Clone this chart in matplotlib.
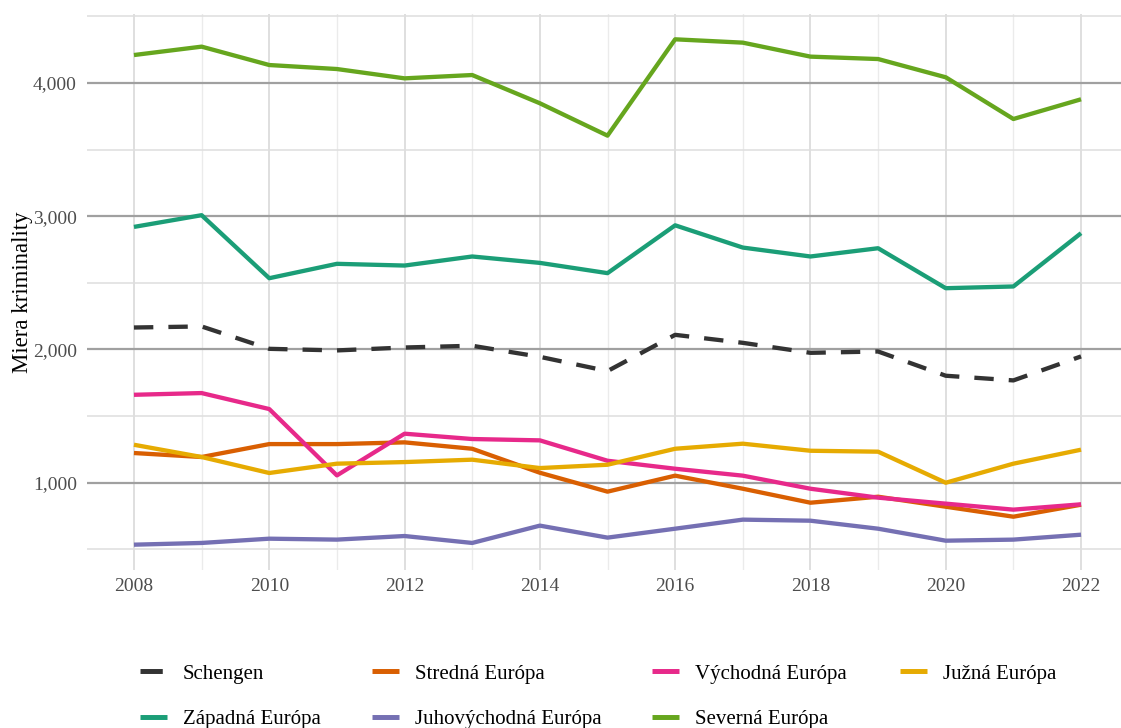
import matplotlib
matplotlib.use("Agg")
import matplotlib.pyplot as plt
from matplotlib.ticker import FuncFormatter, MultipleLocator
from matplotlib.lines import Line2D

plt.rcParams['font.family'] = ['Liberation Serif', 'DejaVu Serif']

years = list(range(2008, 2023))

schengen = [2165, 2173, 2005, 1993, 2015, 2028, 1945, 1838, 2110, 2050, 1975, 1985, 1803, 1768, 1948]
stredna = [1223, 1193, 1290, 1290, 1303, 1255, 1075, 933, 1053, 955, 850, 895, 820, 745, 835]
vychodna = [1660, 1673, 1553, 1055, 1368, 1328, 1318, 1165, 1105, 1053, 955, 888, 843, 798, 838]
juzna = [1285, 1193, 1073, 1143, 1155, 1173, 1110, 1135, 1255, 1293, 1240, 1233, 1000, 1143, 1248]
zapadna = [2920, 3008, 2535, 2643, 2630, 2698, 2650, 2573, 2932, 2765, 2698, 2760, 2460, 2473, 2873]
juhovychodna = [535, 548, 580, 573, 600, 548, 678, 588, 655, 723, 715, 655, 565, 573, 610]
severna = [4210, 4273, 4135, 4105, 4035, 4060, 3848, 3605, 4328, 4303, 4198, 4180, 4043, 3730, 3878]

labels = ["Schengen", "Stredná Európa", "Východná Európa", "Južná Európa",
          "Západná Európa", "Juhovýchodná Európa", "Severná Európa"]
series = [schengen, stredna, vychodna, juzna, zapadna, juhovychodna, severna]
colors = ["#333333", "#D95F02", "#E7298A", "#E6AB02", "#1B9E77", "#7570B3", "#66A61E"]
styles = [(0, (4.5, 3.5)), "-", "-", "-", "-", "-", "-"]

W, H = 1121, 728
fig = plt.figure(figsize=(W / 100, H / 100), dpi=100)
left_px, right_px, top_px, bottom_px = 86.6, 1128.4, 14, 570
ax = fig.add_axes([left_px / W, 1 - bottom_px / H, (right_px - left_px) / W, (bottom_px - top_px) / H])

lw = 3.1
for lab, vals, c, ls in zip(labels, series, colors, styles):
    ax.plot(years, vals, color=c, lw=lw, linestyle=ls, label=lab,
            solid_capstyle='butt', dash_capstyle='butt', zorder=3)

ax.set_xlim(2007.3, 2022.7)
ax.set_ylim(345, 4518)

ax.xaxis.set_major_locator(MultipleLocator(2))
ax.xaxis.set_minor_locator(MultipleLocator(1))
ax.yaxis.set_major_locator(MultipleLocator(1000))
ax.yaxis.set_minor_locator(MultipleLocator(500))
ax.yaxis.set_major_formatter(FuncFormatter(lambda v, p: f"{int(v):,}"))

ax.grid(which='major', axis='y', color='#A0A0A0', lw=1.6, zorder=1)
ax.grid(which='minor', axis='y', color='#DEDEDE', lw=1.1, zorder=1)
ax.grid(which='major', axis='x', color='#D6D6D6', lw=1.1, zorder=1)
ax.grid(which='minor', axis='x', color='#EBEBEB', lw=1.0, zorder=1)
ax.set_axisbelow(True)

for s in ax.spines.values():
    s.set_visible(False)
ax.tick_params(which='both', length=0)
ax.tick_params(axis='y', labelsize=14, labelcolor='#4D4D4D', pad=7)
ax.tick_params(axis='x', labelsize=14, labelcolor='#4D4D4D', pad=6)

ax.set_ylabel("Miera kriminality", fontsize=16.5, color='black', labelpad=0)

# legend: 4 columns, row-major order like the reference
col_x = [140, 372, 652, 900]
cols = [[0, 4], [1, 5], [2, 6], [3]]
for cx, idx in zip(col_x, cols):
    hs = [Line2D([0], [0], color=colors[i], lw=lw * 1.15, linestyle=styles[i],
                 solid_capstyle='butt', dash_capstyle='butt') for i in idx]
    fig.legend(hs, [labels[i] for i in idx], loc='upper left',
               bbox_to_anchor=(cx / W, 1 - 664 / H), frameon=False,
               fontsize=15, handlelength=1.3, handletextpad=0.75,
               borderpad=0, borderaxespad=0, labelspacing=1.25)

fig.savefig("out.png", dpi=100, facecolor='white')
